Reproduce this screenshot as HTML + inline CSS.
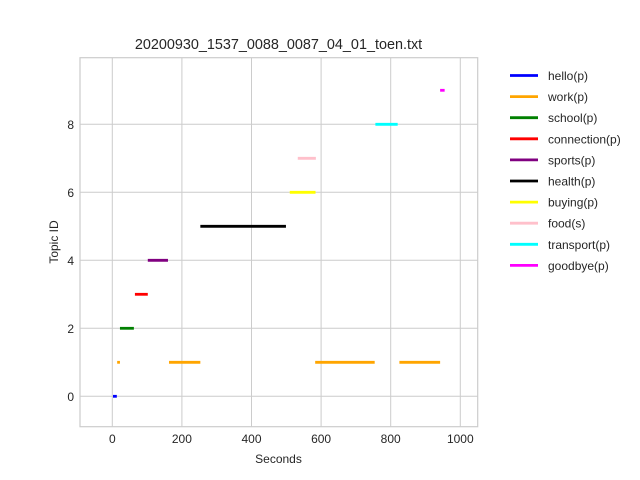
<!DOCTYPE html>
<html><head><meta charset="utf-8"><style>
html,body{margin:0;padding:0;background:#fff;}
svg{display:block;font-family:"Liberation Sans",sans-serif;}
</style></head><body>
<svg id="chart" width="640" height="480">
<text x="278.5" y="49" font-size="14.4" text-anchor="middle" fill="#262626">20200930_1537_0088_0087_04_01_toen.txt</text>
<rect x="80" y="57.7" width="397.7" height="369" fill="#fff" stroke="#ccc" stroke-width="1.2"/>
<g id="grid"></g>
<g id="marks"></g>
<text x="278.5" y="463" font-size="12" text-anchor="middle" fill="#262626">Seconds</text>
<text transform="translate(58,242) rotate(-90)" font-size="12" text-anchor="middle" fill="#262626">Topic ID</text>
<g id="legend"></g>
</svg>
<script>
const topics = ["hello(p)","work(p)","school(p)","connection(p)","sports(p)","health(p)","buying(p)","food(s)","transport(p)","goodbye(p)"];
const colors = ["blue","orange","green","red","purple","black","yellow","pink","cyan","magenta"];
const segTopic = [0,1,1,1,1,2,3,4,5,6,7,8,9];
const segStart = [2,14,163,583,825,22,65,102,253,510,533,756,942];
const segEnd   = [13,22,253,754,942,62,102,160,499,584,585,820,955];
const xTicks = [0,200,400,600,800,1000];
const yTicks = [0,2,4,6,8];

const NS="http://www.w3.org/2000/svg";
const X0=80,X1=477.7,Y0=426.7,Y1=57.7;
const xMin=-92.8,xMax=1050;
const yMin=-0.9,yMax=9.95;
function sx(v){return X0+(v-xMin)/(xMax-xMin)*(X1-X0);}
function sy(v){return 396.3-v*34;}
function mk(tag,attrs,parent){const e=document.createElementNS(NS,tag);for(const k in attrs)e.setAttribute(k,attrs[k]);parent.appendChild(e);return e;}
const grid=document.getElementById('grid'),marks=document.getElementById('marks'),leg=document.getElementById('legend'),svg=document.getElementById('chart');
xTicks.forEach(t=>{
  const l=mk('line',{x1:sx(t),x2:sx(t),y1:Y1,y2:Y0,stroke:'#ccc','stroke-width':1},grid);
  
  
  const tx=mk('text',{x:sx(t),y:443,'font-size':12,'text-anchor':'middle',fill:'#262626'},svg);
  tx.textContent=t;
  
  
});
yTicks.forEach(t=>{
  const l=mk('line',{x1:X0,x2:X1,y1:sy(t),y2:sy(t),stroke:'#ccc','stroke-width':1},grid);
  
  
  const tx=mk('text',{x:74,y:sy(t)+4.5,'font-size':12,'text-anchor':'end',fill:'#262626'},svg);
  tx.textContent=t;
  
  
});
segTopic.forEach((tp,i)=>{
  const l=mk('line',{x1:sx(segStart[i]),x2:sx(segEnd[i]),y1:sy(tp),y2:sy(tp),stroke:colors[tp],'stroke-width':2.8},marks);
  
  
});
topics.forEach((n,i)=>{
  const y=75.5+i*21.1;
  const l=mk('line',{x1:510,x2:538,y1:y,y2:y,stroke:colors[i],'stroke-width':2.8},leg);
  
  
  const tx=mk('text',{x:548,y:y+4.5,'font-size':12,fill:'#262626'},leg);
  tx.textContent=n;
  
  
});
</script>
</body></html>
